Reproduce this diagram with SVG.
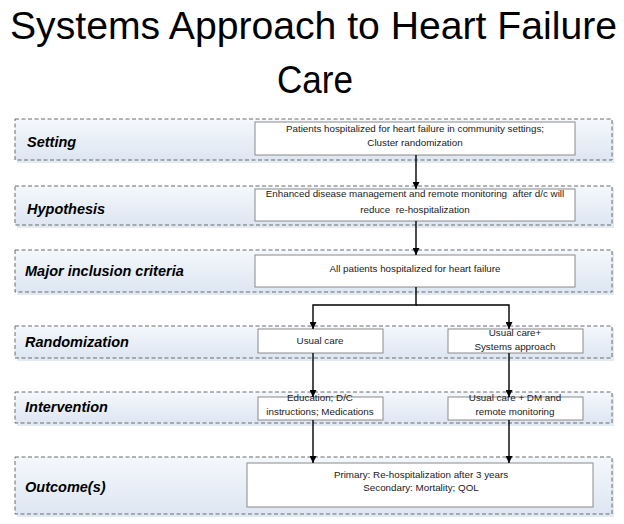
<svg xmlns="http://www.w3.org/2000/svg" width="624" height="524" viewBox="0 0 624 524">
<defs>
<linearGradient id="bandGrad" x1="0" y1="0" x2="0" y2="1">
<stop offset="0" stop-color="#f5f8fc"/>
<stop offset="1" stop-color="#dde6f2"/>
</linearGradient>
<marker id="arr" viewBox="0 0 10 10" refX="10" refY="5" markerWidth="7" markerHeight="7" markerUnits="userSpaceOnUse" orient="auto">
<path d="M0,0 L10,5 L0,10 z" fill="#000"/>
</marker>
</defs>
<style>
.title{font-family:"Liberation Sans",Arial,sans-serif;font-size:38px;fill:#000;}
.band{fill:url(#bandGrad);stroke:#6b6b6b;stroke-width:1;stroke-dasharray:4,2.5;}
.shadow{fill:#d6e1ef;opacity:0.7;}
.lbl{font-family:"Liberation Sans",Arial,sans-serif;font-size:14.5px;font-weight:bold;font-style:italic;fill:#000;}
.box{fill:#fff;stroke:#8a8a8a;stroke-width:1;}
.txt{font-family:"Liberation Sans",Arial,sans-serif;font-size:9.8px;fill:#1a1a1a;text-anchor:middle;}
.conn{fill:none;stroke:#000;stroke-width:1.4;}
</style>
<rect width="624" height="524" fill="#fff"/>
<g id="title">
<text class="title" x="10" y="39" textLength="607" lengthAdjust="spacingAndGlyphs">Systems Approach to Heart Failure</text>
<text class="title" x="277" y="93" textLength="76" lengthAdjust="spacingAndGlyphs">Care</text>
</g>

<g id="band-setting">
<rect class="shadow" x="17" y="121" width="597" height="42"/>
<rect class="band" x="15" y="119" width="597" height="41"/>
<text class="lbl" x="27" y="147">Setting</text>
</g>
<g id="band-hypothesis">
<rect class="shadow" x="17" y="188" width="597" height="40"/>
<rect class="band" x="15" y="186" width="597" height="39"/>
<text class="lbl" x="27" y="214">Hypothesis</text>
</g>
<g id="band-inclusion">
<rect class="shadow" x="17" y="252" width="597" height="43"/>
<rect class="band" x="15" y="250" width="597" height="42"/>
<text class="lbl" x="25" y="276">Major inclusion criteria</text>
</g>
<g id="band-randomization">
<rect class="shadow" x="17" y="328" width="597" height="33"/>
<rect class="band" x="15" y="326" width="597" height="32"/>
<text class="lbl" x="25" y="347">Randomization</text>
</g>
<g id="band-intervention">
<rect class="shadow" x="17" y="394" width="597" height="32"/>
<rect class="band" x="15" y="392" width="597" height="31"/>
<text class="lbl" x="25" y="412">Intervention</text>
</g>
<g id="band-outcome">
<rect class="shadow" x="17" y="459" width="597" height="58"/>
<rect class="band" x="15" y="457" width="597" height="57"/>
<text class="lbl" x="25" y="492">Outcome(s)</text>
</g>

<g id="box-setting">
<rect class="box" x="255" y="122" width="320" height="33"/>
<text class="txt" x="415" y="132">Patients hospitalized for heart failure in community settings;</text>
<text class="txt" x="415" y="146">Cluster randomization</text>
</g>
<g id="box-hypothesis">
<rect class="box" x="255" y="189" width="320" height="32"/>
<text class="txt" x="415" y="197" xml:space="preserve">Enhanced disease management and remote monitoring  after d/c will</text>
<text class="txt" x="415" y="213" xml:space="preserve">reduce  re-hospitalization</text>
</g>
<g id="box-inclusion">
<rect class="box" x="255" y="255" width="320" height="32"/>
<text class="txt" x="415" y="272">All patients hospitalized for heart failure</text>
</g>
<g id="box-usual">
<rect class="box" x="258" y="329" width="125" height="24"/>
<text class="txt" x="320" y="344">Usual care</text>
</g>
<g id="box-systems">
<rect class="box" x="448" y="329" width="135" height="24"/>
<text class="txt" x="515" y="336">Usual care+</text>
<text class="txt" x="515" y="350">Systems approach</text>
</g>
<g id="box-education">
<rect class="box" x="258" y="397" width="125" height="23"/>
<text class="txt" x="320" y="401">Education; D/C</text>
<text class="txt" x="320" y="415">instructions; Medications</text>
</g>
<g id="box-dm">
<rect class="box" x="448" y="397" width="135" height="23"/>
<text class="txt" x="515" y="401">Usual care + DM and</text>
<text class="txt" x="515" y="415">remote monitoring</text>
</g>
<g id="box-outcome">
<rect class="box" x="247" y="463" width="346" height="44"/>
<text class="txt" x="421" y="478">Primary: Re-hospitalization after 3 years</text>
<text class="txt" x="421" y="491">Secondary: Mortality; QOL</text>
</g>

<g id="connectors">
<line class="conn" x1="416" y1="155" x2="416" y2="189" marker-end="url(#arr)"/>
<line class="conn" x1="416" y1="221" x2="416" y2="255" marker-end="url(#arr)"/>
<polyline class="conn" points="416,287 416,305 313,305 313,329" marker-end="url(#arr)"/>
<polyline class="conn" points="416,305 509,305 509,329" marker-end="url(#arr)"/>
<line class="conn" x1="313" y1="353" x2="313" y2="397" marker-end="url(#arr)"/>
<line class="conn" x1="509" y1="353" x2="509" y2="397" marker-end="url(#arr)"/>
<line class="conn" x1="313" y1="420" x2="313" y2="463" marker-end="url(#arr)"/>
<line class="conn" x1="509" y1="420" x2="509" y2="463" marker-end="url(#arr)"/>
</g>
</svg>
